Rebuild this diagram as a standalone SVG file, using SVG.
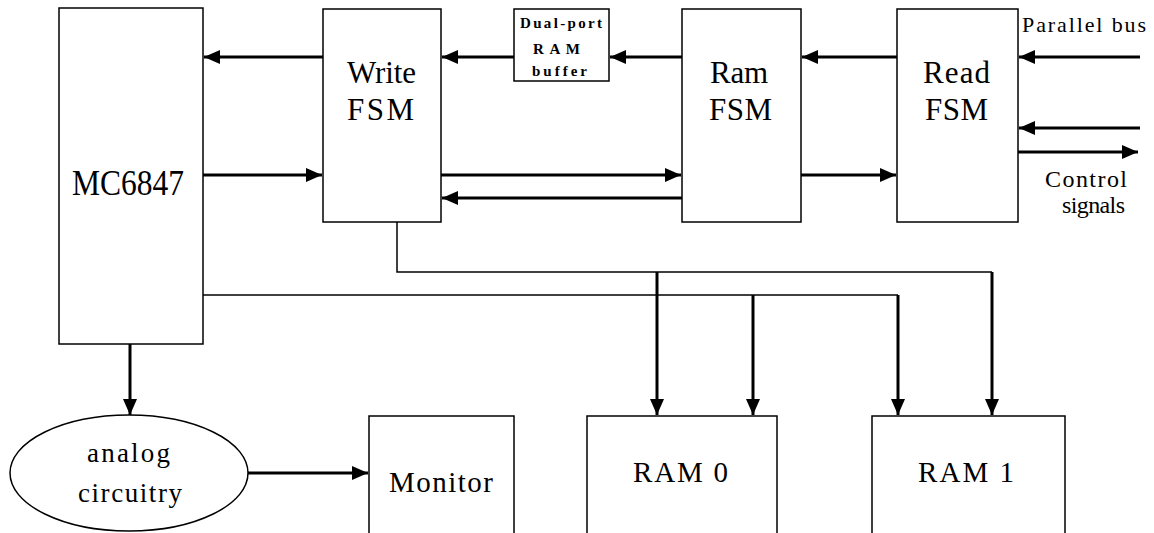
<svg xmlns="http://www.w3.org/2000/svg" width="1154" height="533" viewBox="0 0 1154 533">
<style>
.box{fill:#fff;stroke:#000;stroke-width:1.5}
.t{font-family:'Liberation Serif','Times New Roman',serif;fill:#000;text-anchor:start}
.big{font-size:31px}
.mc{font-size:36px}
.mid{font-size:29px}
.el{font-size:27px}
.sm{font-size:22px}
.cs{font-size:24px}
.tiny{font-size:15px;font-weight:bold}
.a{stroke:#000;stroke-width:3;fill:none;marker-end:url(#ah)}
.thin{stroke:#000;stroke-width:1.5;fill:none}
</style>
<defs>
<marker id="ah" markerUnits="userSpaceOnUse" markerWidth="16" markerHeight="14" viewBox="0 0 16 14" refX="16" refY="7" orient="auto">
<path d="M0,0 L16,7 L0,14 Z" fill="#000"/>
</marker>
</defs>
<rect width="1154" height="533" fill="#fff"/>
<g id="connectors">
<line class="a" x1="323" y1="57" x2="204" y2="57"/>
<line class="a" x1="203" y1="175" x2="322" y2="175"/>
<line class="a" x1="514" y1="57" x2="442" y2="57"/>
<line class="a" x1="682" y1="57" x2="610" y2="57"/>
<line class="a" x1="897" y1="57" x2="802" y2="57"/>
<line class="a" x1="1140" y1="57" x2="1019" y2="57"/>
<line class="a" x1="1140" y1="128" x2="1019" y2="128"/>
<line class="a" x1="1018" y1="152" x2="1138" y2="152"/>
<line class="a" x1="441" y1="175" x2="681" y2="175"/>
<line class="a" x1="682" y1="198" x2="442" y2="198"/>
<line class="a" x1="801" y1="175" x2="896" y2="175"/>
<polyline class="thin" points="397,222 397,272 992,272"/>
<line class="thin" x1="203" y1="295" x2="898" y2="295"/>
<line class="a" x1="657" y1="272" x2="657" y2="415"/>
<line class="a" x1="753" y1="295" x2="753" y2="415"/>
<line class="a" x1="898" y1="295" x2="898" y2="415"/>
<line class="a" x1="992" y1="272" x2="992" y2="415"/>
<line class="a" x1="130" y1="344" x2="130" y2="415"/>
<line class="a" x1="248" y1="473" x2="368" y2="473"/>
</g>
<g id="mc6847">
<rect class="box" x="59" y="8" width="144" height="336"/>
<text class="t mc" x="72" y="195" textLength="112" lengthAdjust="spacingAndGlyphs">MC6847</text>
</g>
<g id="write-fsm">
<rect class="box" x="323" y="9" width="118" height="213"/>
<text class="t big" x="347" y="83" textLength="69">Write</text>
<text class="t big" x="347" y="120" textLength="67">FSM</text>
</g>
<g id="dual-port-ram-buffer">
<rect class="box" x="514" y="9" width="95" height="72"/>
<text class="t tiny" x="520" y="28" textLength="82">Dual-port</text>
<text class="t tiny" x="533" y="54" textLength="47">RAM</text>
<text class="t tiny" x="532" y="76" textLength="55">buffer</text>
</g>
<g id="ram-fsm">
<rect class="box" x="682" y="9" width="119" height="213"/>
<text class="t big" x="710" y="83" textLength="58">Ram</text>
<text class="t big" x="709" y="120" textLength="63">FSM</text>
</g>
<g id="read-fsm">
<rect class="box" x="897" y="9" width="121" height="213"/>
<text class="t big" x="923" y="83" textLength="67">Read</text>
<text class="t big" x="925" y="120" textLength="63">FSM</text>
</g>
<g id="parallel-bus-label">
<text class="t sm" x="1022" y="32" textLength="124">Parallel bus</text>
</g>
<g id="control-signals-label">
<text class="t cs" x="1045" y="187" textLength="82">Control</text>
<text class="t cs" x="1062" y="213" textLength="63">signals</text>
</g>
<g id="analog-circuitry">
<ellipse cx="129" cy="473" rx="119" ry="58" fill="#fff" stroke="#000" stroke-width="1.5"/>
<text class="t el" x="87" y="462" textLength="83">analog</text>
<text class="t el" x="78" y="502" textLength="104">circuitry</text>
</g>
<g id="monitor">
<rect class="box" x="369" y="416" width="145" height="130"/>
<text class="t mid" x="389" y="492" textLength="104">Monitor</text>
</g>
<g id="ram0">
<rect class="box" x="587" y="416" width="190" height="130"/>
<text class="t mid" x="633" y="482" textLength="95">RAM 0</text>
</g>
<g id="ram1">
<rect class="box" x="872" y="416" width="193" height="130"/>
<text class="t mid" x="918" y="482" textLength="96">RAM 1</text>
</g>
</svg>
